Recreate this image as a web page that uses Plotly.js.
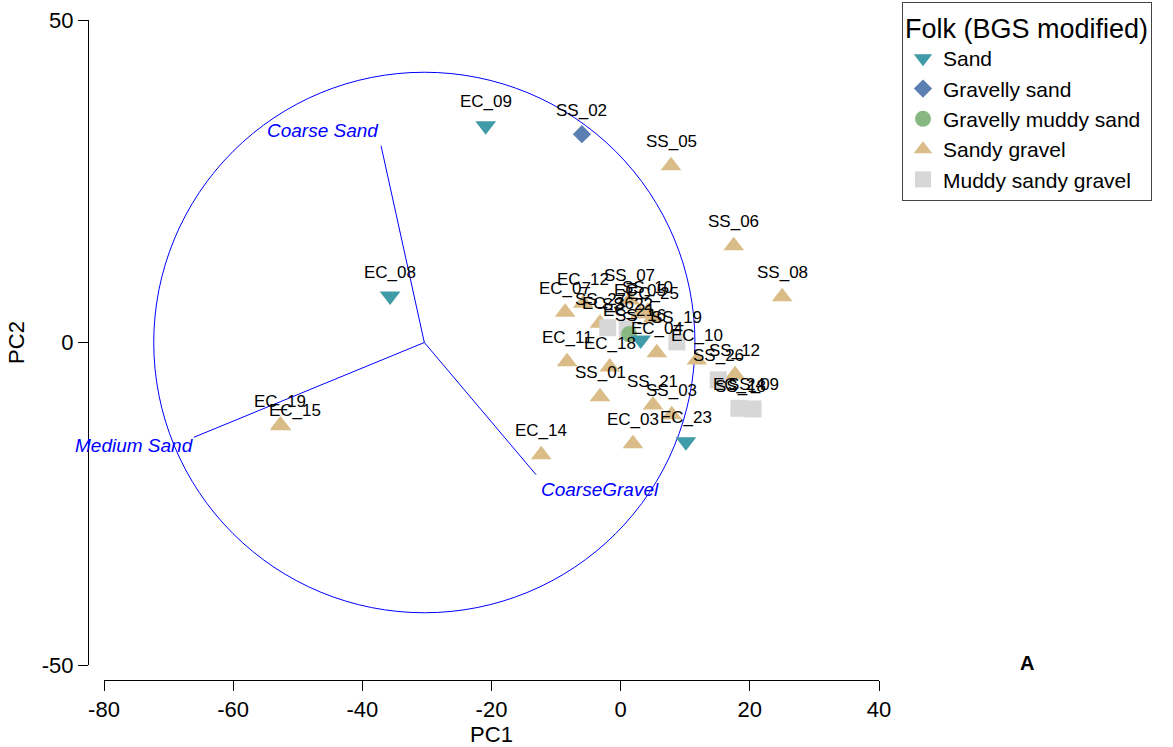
<!DOCTYPE html>
<html>
<head>
<meta charset="utf-8">
<script src="https://cdn.plot.ly/plotly-3.0.1.min.js"></script>
<style>
  html, body { margin: 0; padding: 0; background: #ffffff; }
  #chart { width: 1173px; height: 747px; }
</style>
</head>
<body>
<div id="chart"></div>
<script>
// ---------- DATA ----------
const sandNames = ["EC_09", "EC_08", "SS_16", "EC_23"];
const sandPC1 = [-20.9, -35.7, 3.1, 10.1];
const sandPC2 = [33.6, 7.2, 0.4, -15.4];

const gravellySandNames = ["SS_02"];
const gravellySandPC1 = [-6.0];
const gravellySandPC2 = [32.3];

const gravMuddySandNames = ["EC_21"];
const gravMuddySandPC1 = [1.3];
const gravMuddySandPC2 = [1.3];

const sandyGravelNames = ["SS_05", "SS_06", "SS_08", "EC_19", "EC_15", "EC_14", "EC_03", "SS_21", "SS_03", "SS_01",
                          "EC_11", "EC_18", "EC_07", "EC_12", "SS_27", "SS_07", "EC_25", "EC_05", "SS_10", "EC_04",
                          "EC_10", "SS_12", "SS_18"];
const sandyGravelPC1 = [7.8, 17.5, 25.0, -52.7, -52.6, -12.3, 1.9, 5.0, 7.9, -3.2,
                        -8.3, -1.7, -8.6, -5.8, -3.2, 1.4, 5.0, 3.0, 4.2, 5.6,
                        11.8, 17.7, 18.5];
const sandyGravelPC2 = [27.4, 15.0, 7.1, -12.8, -12.9, -17.4, -15.7, -9.7, -11.2, -8.4,
                        -3.0, -3.8, 4.7, 6.1, 3.0, 6.6, 3.8, 4.4, 4.8, -1.6,
                        -2.7, -5.0, -10.5];

const muddySandyGravelNames = ["EC_36", "SS_22", "SS_19", "SS_26", "EC_24", "SS_09"];
const muddySandyGravelPC1 = [-2.0, 1.0, 8.7, 15.1, 18.3, 20.5];
const muddySandyGravelPC2 = [2.3, 2.1, 0.1, -5.8, -10.2, -10.3];

// vectors (variables) from the circle centre
const vectorNames = ["Coarse Sand", "Medium Sand", "CoarseGravel"];
const vectorPC1 = [-37.1, -66.1, -13.1];
const vectorPC2 = [30.5, -14.7, -20.5];
const circleCentre = [-30.4, 0];
const circleRadius = 41.9;

const xTickValues = [-80, -60, -40, -20, 0, 20, 40];
const xTickLabels = ["-80", "-60", "-40", "-20", "0", "20", "40"];
const yTickValues = [-50, 0, 50];
const yTickLabels = ["-50", "0", "50"];

// ---------- STYLE ----------
const FONT = "Liberation Sans, Arial, sans-serif";
// small pixel nudges for labels that sit on top of each other
const labelNudge = {"EC_15": [14, -9]};

const groups = [
  // drawing order (legend order set by legendrank)
  {name: "Sandy gravel", names: sandyGravelNames, x: sandyGravelPC1, y: sandyGravelPC2,
   symbol: "triangle-up", color: "#d9bc87", size: 18, rank: 4},
  {name: "Muddy sandy gravel", names: muddySandyGravelNames, x: muddySandyGravelPC1, y: muddySandyGravelPC2,
   symbol: "square", color: "#d7d7d7", size: 17, rank: 5},
  {name: "Gravelly muddy sand", names: gravMuddySandNames, x: gravMuddySandPC1, y: gravMuddySandPC2,
   symbol: "circle", color: "#88b881", size: 16, rank: 3},
  {name: "Gravelly sand", names: gravellySandNames, x: gravellySandPC1, y: gravellySandPC2,
   symbol: "diamond", color: "#5b7fb1", size: 14, rank: 2},
  {name: "Sand", names: sandNames, x: sandPC1, y: sandPC2,
   symbol: "triangle-down", color: "#3f9ba7", size: 18, rank: 1}
];

const traces = [];
const annotations = [];

// vectors
for (let i = 0; i < vectorNames.length; i++) {
  traces.push({
    x: [circleCentre[0], vectorPC1[i]],
    y: [circleCentre[1], vectorPC2[i]],
    mode: "lines",
    line: {color: "#0000ff", width: 1},
    showlegend: false,
    hoverinfo: "skip"
  });
}
const vecLabelStyle = [
  {xanchor: "right", yanchor: "bottom", xshift: 0, yshift: 3},
  {xanchor: "right", yanchor: "top", xshift: 2, yshift: 4},
  {xanchor: "left", yanchor: "top", xshift: 3, yshift: -2}
];
for (let i = 0; i < vectorNames.length; i++) {
  annotations.push(Object.assign({
    x: vectorPC1[i], y: vectorPC2[i], xref: "x", yref: "y",
    text: "<i>" + vectorNames[i] + "</i>", showarrow: false,
    font: {family: FONT, size: 19, color: "#0000ff"}
  }, vecLabelStyle[i]));
}

// sample points
groups.forEach(g => {
  traces.push({
    x: g.x, y: g.y, name: g.name, mode: "markers", type: "scatter",
    legendrank: g.rank,
    marker: {symbol: g.symbol, color: g.color, size: g.size, line: {width: 0}},
    hoverinfo: "skip"
  });
  for (let i = 0; i < g.names.length; i++) {
    const n = labelNudge[g.names[i]] || [0, 0];
    annotations.push({
      x: g.x[i], y: g.y[i], xref: "x", yref: "y", text: g.names[i],
      showarrow: false, xshift: n[0], yshift: 24 + n[1], xanchor: "center", yanchor: "middle",
      font: {family: FONT, size: 17, color: "#000000"}
    });
  }
});

annotations.push({
  x: 1.187, y: 0.026, xref: "paper", yref: "paper", text: "<b>A</b>",
  showarrow: false, xanchor: "center", yanchor: "middle",
  font: {family: FONT, size: 20, color: "#000000"}
});

const layout = {
  width: 1173, height: 747,
  margin: {l: 88, r: 294, t: 20, b: 67, pad: 0},
  paper_bgcolor: "#ffffff", plot_bgcolor: "#ffffff",
  font: {family: FONT, color: "#000000"},
  showlegend: true,
  legend: {
    xref: "container", yref: "container",
    x: 902 / 1173, y: 1 - 2 / 747, xanchor: "left", yanchor: "top",
    bordercolor: "#444444", borderwidth: 1, bgcolor: "#ffffff",
    font: {family: FONT, size: 21, color: "#000000"},
    title: {text: "Folk (BGS modified)", font: {family: FONT, size: 27, color: "#000000"}},
    itemsizing: "trace", tracegroupgap: 0
  },
  xaxis: {
    domain: [16 / 791, 1], range: [-80, 40], anchor: "free", position: 0,
    showgrid: false, zeroline: false, showline: true, linecolor: "#000000", linewidth: 1,
    ticks: "outside", ticklen: 10, tickwidth: 1, tickcolor: "#000000",
    tickmode: "array", tickvals: xTickValues, ticktext: xTickLabels,
    tickfont: {family: FONT, size: 22, color: "#000000"},
    title: {text: "PC1", font: {family: FONT, size: 22, color: "#000000"}, standoff: 6},
    automargin: false, fixedrange: true
  },
  yaxis: {
    domain: [15 / 660, 1], range: [-50, 50], anchor: "free", position: 0,
    showgrid: false, zeroline: false, showline: true, linecolor: "#000000", linewidth: 1,
    ticks: "outside", ticklen: 10, tickwidth: 1, tickcolor: "#000000",
    tickmode: "array", tickvals: yTickValues, ticktext: yTickLabels,
    tickfont: {family: FONT, size: 22, color: "#000000"},
    title: {text: "PC2", font: {family: FONT, size: 22, color: "#000000"}, standoff: 10},
    automargin: false, fixedrange: true
  },
  shapes: [{
    type: "circle", xref: "x", yref: "y",
    x0: circleCentre[0] - circleRadius, x1: circleCentre[0] + circleRadius,
    y0: circleCentre[1] - circleRadius, y1: circleCentre[1] + circleRadius,
    line: {color: "#0000ff", width: 1}, layer: "below"
  }],
  annotations: annotations,
  hovermode: false
};

Plotly.newPlot("chart", traces, layout, {staticPlot: true, displayModeBar: false});
</script>
</body>
</html>
